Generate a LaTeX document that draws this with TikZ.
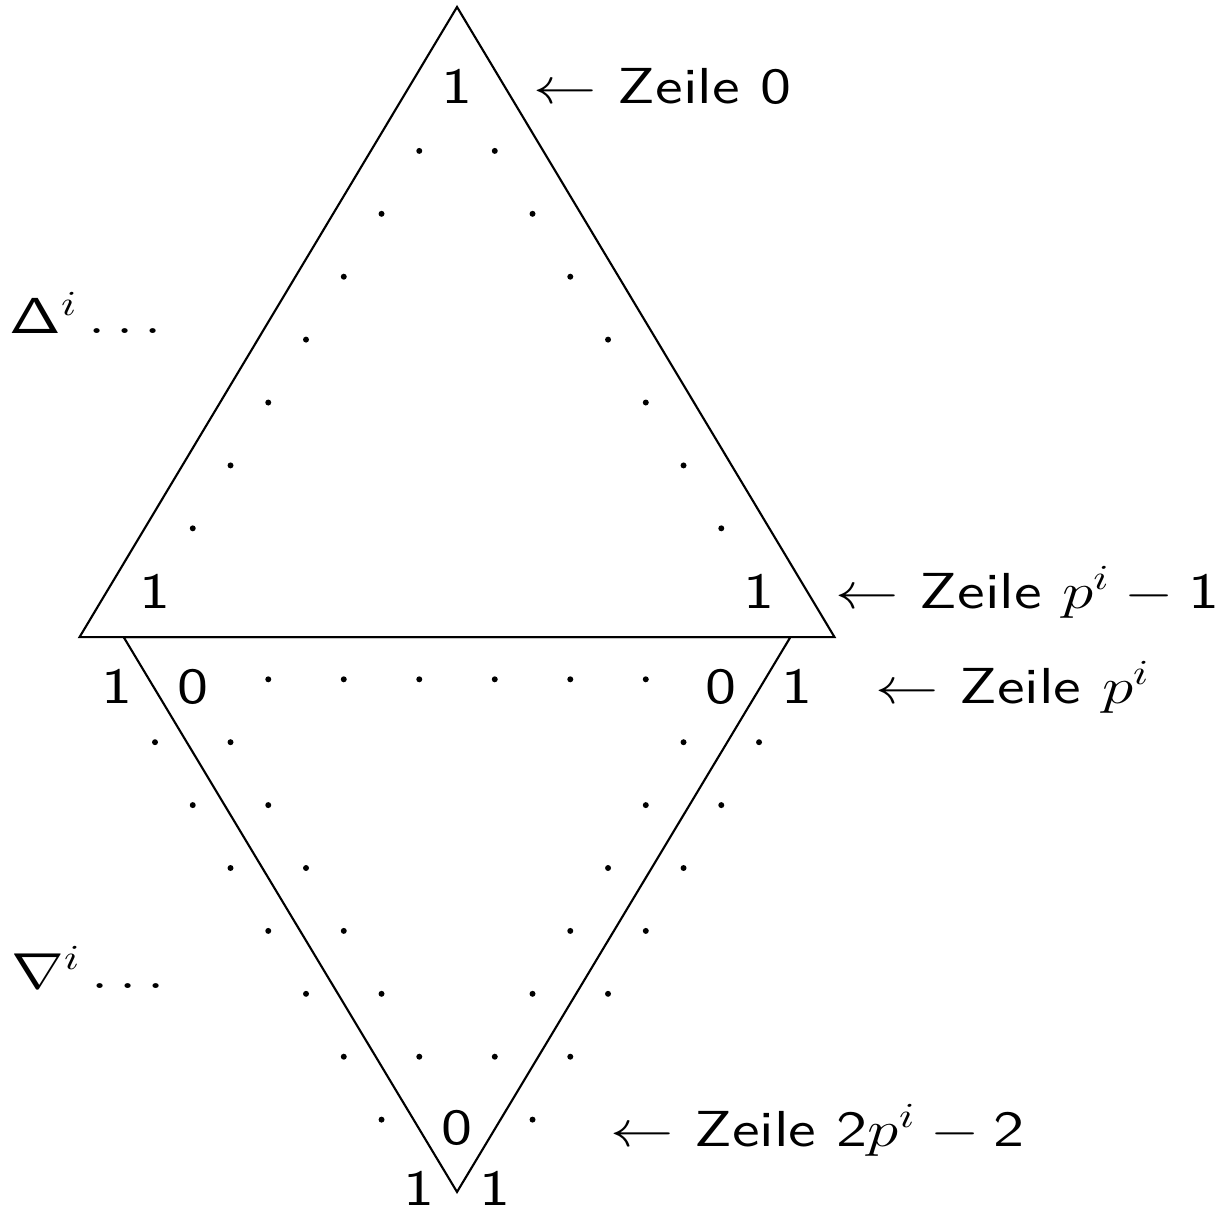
\documentclass[tikz,border=0pt]{standalone}
\usepackage{tikz}

\begin{document}
\begin{tikzpicture}[x=0.3775cm, y=-0.629cm, line width=0.6pt,
    cellnum/.style={anchor=base, inner sep=0pt, xscale=1.25, font=\sffamily\Large},
    rowtag/.style={anchor=base west, inner sep=0pt, xscale=1.25, font=\sffamily\Large}]
    \useasboundingbox (-12.106,-1.399) rectangle (20.29,17.854);

    % the two triangles
    \coordinate (top) at (0,-1.288);
    \coordinate (ul) at (-10,8.73);
    \coordinate (ur) at (10,8.73);
    \coordinate (ll) at (-8.83,8.73);
    \coordinate (lr) at (8.83,8.73);
    \coordinate (bot) at (0,17.55);
    \draw (top) -- (ul) -- (ur) -- cycle;
    \draw (ll) -- (lr) -- (bot) -- cycle;

    % entries
    \node (r0) [cellnum] at (0,0.254) {1};
    \node (r8l) [cellnum] at (-8,8.27) {1};
    \node (r8r) [cellnum] at (8,8.27) {1};
    \node (r9a) [cellnum] at (-9,9.78) {1};
    \node (r9b) [cellnum] at (-7,9.78) {0};
    \node (r9c) [cellnum] at (7,9.78) {0};
    \node (r9d) [cellnum] at (9,9.78) {1};
    \node (r16) [cellnum] at (0,16.8) {0};
    \node (r17l) [cellnum] at (-1,17.76) {1};
    \node (r17r) [cellnum] at (1,17.76) {1};

    % dots
    \foreach \r in {1,...,7} {
        \fill (-\r,\r) circle (0.85pt);
        \fill (\r,\r) circle (0.85pt);
    }
    \foreach \c in {-5,-3,...,5}
        \fill (\c,9.4) circle (0.85pt);
    \foreach \r in {10,...,16} {
        \fill ({\r-18},{\r+0.4}) circle (0.85pt);
        \fill ({18-\r},{\r+0.4}) circle (0.85pt);
    }
    \foreach \r in {10,...,15} {
        \fill ({\r-16},{\r+0.4}) circle (0.85pt);
        \fill ({16-\r},{\r+0.4}) circle (0.85pt);
    }

    % row labels
    \node (z0) [rowtag] at (2,0.254) {$\leftarrow$ Zeile 0};
    \node (z1) [rowtag] at (10,8.27) {$\leftarrow$ Zeile $p^i-\mathsf{1}$};
    \node (z2) [rowtag] at (11.05,9.78) {$\leftarrow$ Zeile $p^i$};
    \node (z3) [rowtag] at (4.03,16.82) {$\leftarrow$ Zeile $\mathsf{2}p^i-\mathsf{2}$};
    \node (delta) [rowtag] at (-11.89,3.91) {$\mathsf{\Delta}^i\ldots$};
    \node (nabla) [rowtag] at (-11.84,14.31) {$\nabla^i\ldots$};
\end{tikzpicture}
\end{document}
